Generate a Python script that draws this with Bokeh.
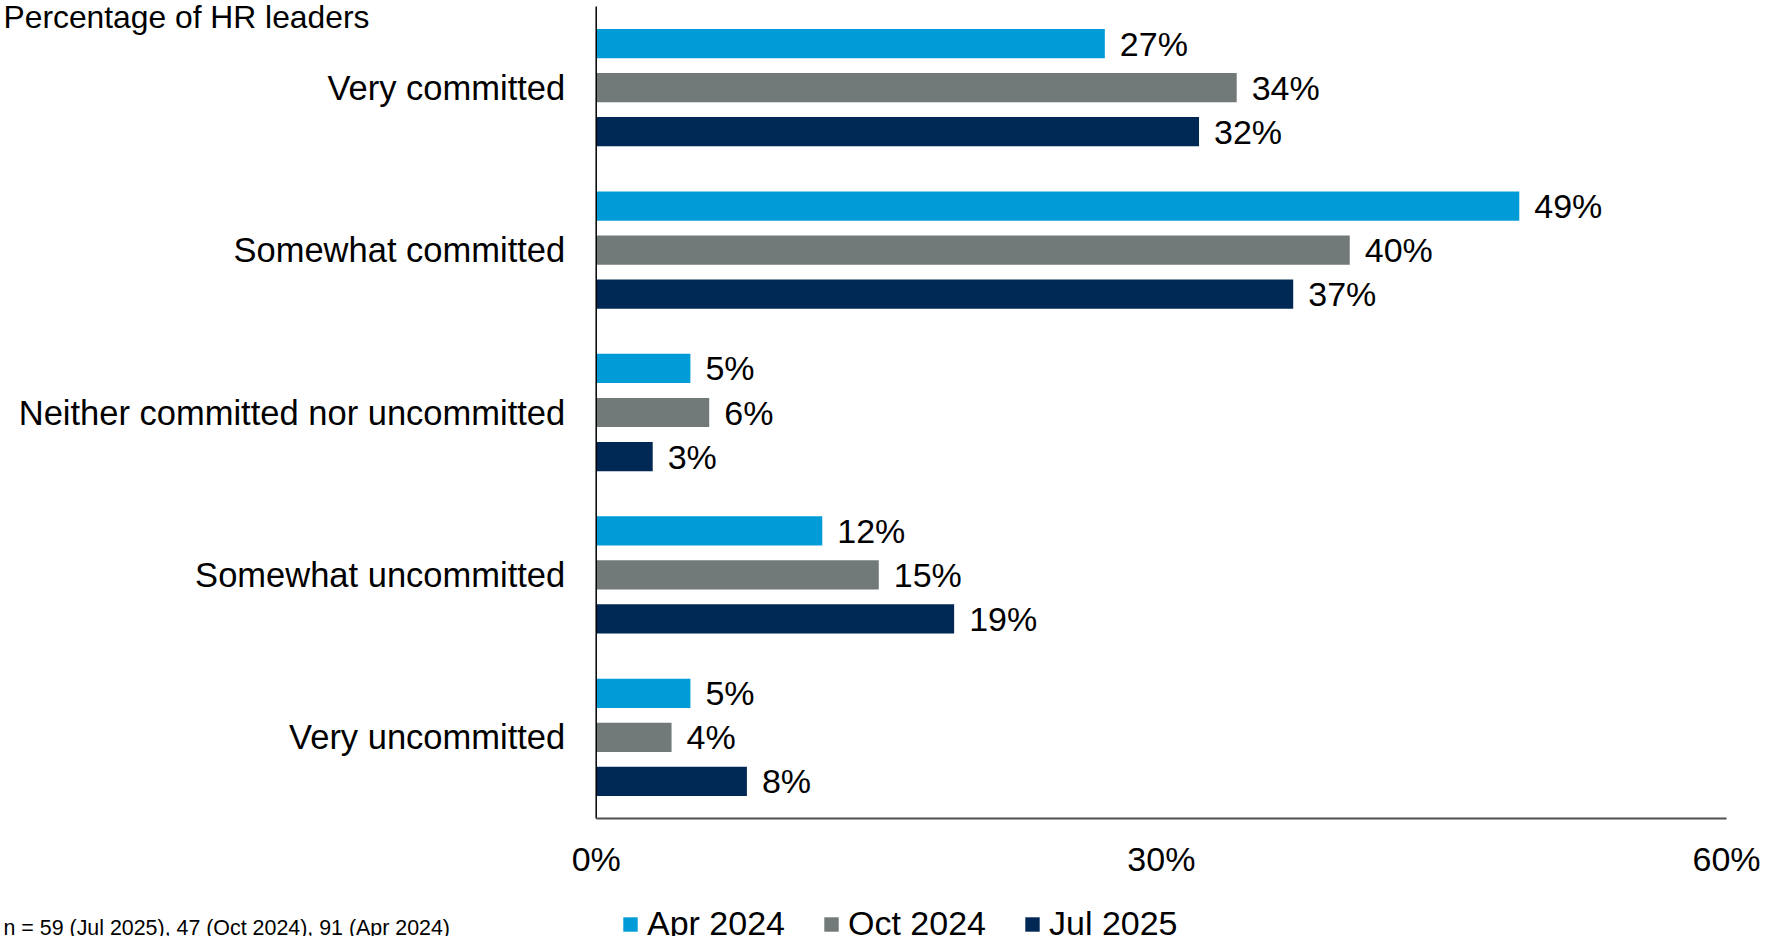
from bokeh.plotting import figure
from bokeh.models import ColumnDataSource, Label, Legend, LegendItem
from bokeh.core.properties import value
from bokeh.embed import file_html
from bokeh.resources import INLINE

categories = ["Very committed", "Somewhat committed", "Neither committed nor uncommitted",
              "Somewhat uncommitted", "Very uncommitted"]
series_names = ["Apr 2024", "Oct 2024", "Jul 2025"]
apr_2024 = [27, 49, 5, 12, 5]
oct_2024 = [34, 40, 6, 15, 4]
jul_2025 = [32, 37, 3, 19, 8]
x_ticks = [0, 30, 60]
x_tick_labels = ["0%", "30%", "60%"]
y_title = "Percentage of HR leaders"
footnote = "n = 59 (Jul 2025), 47 (Oct 2024), 91 (Apr 2024)"
colors = ["#009CD8", "#717979", "#002855"]

FONT = "Liberation Sans"
W, H = 1765, 936
# pixel geometry of the plotting area (page px)
PX_L, PX_R, PY_T, PY_B = 595.7, 1726.0, 6.0, 818.0
X_MAX, N = 60.0, len(categories)

ux = (PX_R - PX_L) / X_MAX
uy = (PY_B - PY_T) / N
x_range = (-PX_L / ux, X_MAX + (W - PX_R) / ux)
y_range = (-(H - PY_B) / uy, N + PY_T / uy)

p = figure(width=W, height=H, output_backend="svg", toolbar_location=None,
           x_range=x_range, y_range=y_range,
           min_border_left=0, min_border_right=0, min_border_top=0, min_border_bottom=0,
           x_axis_location=None, y_axis_location=None)
p.outline_line_color = None
p.grid.visible = False
p.background_fill_color = "white"
p.border_fill_color = "white"

centers = [N - 1 - i + 0.5 for i in range(N)]
offsets = [0.271, 0.0, -0.271]
bar_h = 0.18

renderers = []
for vals, off, col, name in zip([apr_2024, oct_2024, jul_2025], offsets, colors, series_names):
    src = ColumnDataSource(dict(y=[c + off for c in centers], right=vals,
                                label=[f"{v}%" for v in vals]))
    r = p.hbar(y="y", left=0, right="right", height=bar_h, source=src,
               fill_color=col, line_color=None)
    p.text(x="right", y="y", text="label", source=src, x_offset=15,
           text_baseline="middle", text_align="left", text_font=value(FONT),
           text_font_size="34px", text_color="black")
    renderers.append((name, r))

# category axis: line + labels
p.segment(x0=[0], y0=[0], x1=[0], y1=[N], line_color="black", line_width=1.5)
cat_src = ColumnDataSource(dict(x=[0] * N, y=centers, text=categories))
p.text(x="x", y="y", text="text", source=cat_src, x_offset=-31,
       text_baseline="middle", text_align="right", text_font=value(FONT),
       text_font_size="34.5px", text_color="black")

# value axis: line + tick labels
p.segment(x0=[0], y0=[0], x1=[X_MAX], y1=[0], line_color="#505050", line_width=2)
tick_src = ColumnDataSource(dict(x=x_ticks, y=[0] * len(x_ticks), text=x_tick_labels))
p.text(x="x", y="y", text="text", source=tick_src, y_offset=858.7 - PY_B,
       text_baseline="middle", text_align="center", text_font=value(FONT),
       text_font_size="34px", text_color="black")

# title & footnote
p.add_layout(Label(x=3, y=H - 16.5, x_units="screen", y_units="screen",
                   text=y_title, text_font=FONT, text_font_size="31.8px",
                   text_color="black", text_baseline="middle", text_align="left"))
p.add_layout(Label(x=3, y=H - 927.5, x_units="screen", y_units="screen",
                   text=footnote, text_font=FONT, text_font_size="21.4px",
                   text_color="black", text_baseline="middle", text_align="left"))

legend = Legend(items=[LegendItem(label=name, renderers=[r]) for name, r in renderers],
                location=(621, H - 943), orientation="horizontal",
                glyph_width=18, glyph_height=18, label_standoff=8, spacing=37,
                padding=0, margin=0, border_line_color=None, background_fill_alpha=0,
                label_text_font=FONT, label_text_font_size="34px",
                label_text_color="black")
p.add_layout(legend, "center")

open("out.html", "w").write(file_html(p, INLINE))
